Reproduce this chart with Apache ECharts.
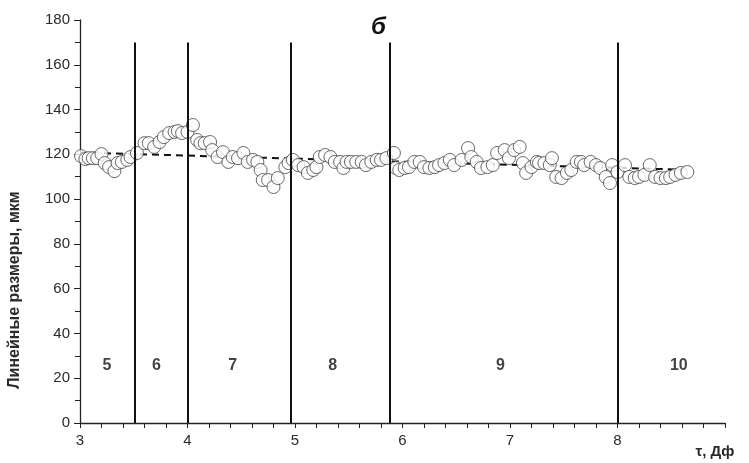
<!DOCTYPE html>
<html>
<head>
<meta charset="utf-8">
<script src="https://cdn.jsdelivr.net/npm/echarts@6/dist/echarts.min.js"></script>
<style>
  html, body { margin: 0; padding: 0; background: #fff; }
  #chart { width: 749px; height: 463px; }
</style>
</head>
<body>
<div id="chart"></div>
<script>
// Measured linear size over time
const tau = [
  3.01, 3.05, 3.08, 3.12, 3.16, 3.20, 3.23, 3.27, 3.32, 3.35, 3.39, 3.44, 3.47, 3.53,
  3.60, 3.64, 3.69, 3.74, 3.78, 3.83, 3.88, 3.91, 3.95, 4.00, 4.05, 4.09, 4.12, 4.16,
  4.21, 4.23, 4.28, 4.33, 4.38, 4.42, 4.47, 4.52, 4.56, 4.61, 4.65, 4.68, 4.70, 4.75,
  4.80, 4.84, 4.91, 4.94, 4.98, 5.03, 5.08, 5.12, 5.17, 5.20, 5.23, 5.28, 5.33, 5.37,
  5.42, 5.45, 5.48, 5.52, 5.57, 5.62, 5.66, 5.71, 5.76, 5.80, 5.85, 5.92, 5.94, 5.97,
  6.02, 6.06, 6.11, 6.16, 6.20, 6.25, 6.30, 6.34, 6.39, 6.44, 6.48, 6.55, 6.61, 6.64,
  6.69, 6.73, 6.79, 6.84, 6.88, 6.95, 6.99, 7.04, 7.09, 7.12, 7.15, 7.20, 7.25, 7.27,
  7.32, 7.37, 7.39, 7.43, 7.48, 7.53, 7.57, 7.62, 7.66, 7.69, 7.75, 7.80, 7.84, 7.89,
  7.93, 7.95, 8.00, 8.07, 8.11, 8.16, 8.20, 8.25, 8.30, 8.35, 8.40, 8.45, 8.49, 8.54,
  8.59, 8.65
];
const size = [
  119.2, 117.9, 118.3, 118.3, 118.3, 120.1, 116.1, 114.3, 112.5, 116.1, 116.6, 117.5, 118.8, 120.6,
  125.0, 125.0, 123.3, 125.5, 127.7, 129.5, 130.0, 130.4, 129.5, 130.0, 133.1, 126.4, 125.0, 125.0,
  125.5, 121.9, 118.8, 121.0, 116.6, 118.8, 118.3, 120.6, 116.6, 117.5, 116.6, 113.0, 108.5, 108.5,
  105.4, 109.4, 114.3, 116.1, 117.5, 115.2, 114.3, 111.7, 113.0, 114.3, 118.8, 119.7, 118.8, 116.6,
  116.6, 113.9, 116.6, 116.6, 116.6, 116.6, 115.2, 116.6, 117.5, 117.5, 118.3, 120.6, 113.9, 113.0,
  113.9, 114.3, 116.6, 116.6, 114.3, 113.9, 114.3, 115.2, 116.1, 117.5, 115.2, 117.5, 122.8, 118.8,
  116.6, 113.9, 114.3, 115.2, 120.6, 121.9, 118.3, 121.9, 123.3, 116.1, 111.7, 114.3, 116.6, 116.1,
  116.1, 115.2, 118.3, 109.9, 109.4, 111.7, 113.0, 116.6, 116.6, 115.2, 116.6, 115.2, 113.9, 109.9,
  107.2, 115.2, 112.1, 115.2, 109.9, 109.4, 109.9, 110.8, 115.2, 109.9, 109.4, 109.4, 109.9, 110.8,
  111.7, 112.1
];

// Linear trend endpoints
const trendTau = [3.0, 8.65];
const trendSize = [120.8, 113.1];

// Stage boundaries and stage labels
const boundaries = [3.51, 4.0, 4.96, 5.88, 8.0];
const boundaryTop = 170;
const zoneNames = ['5', '6', '7', '8', '9', '10'];
const zoneTau = [3.25, 3.71, 4.42, 5.35, 6.91, 8.57];
const zoneLevel = 25.5;

const xTicks = [3, 4, 5, 6, 7, 8];

const chart = echarts.init(document.getElementById('chart'));

const points = tau.map((t, i) => [t, size[i]]);
const trend = trendTau.map((t, i) => [t, trendSize[i]]);
const zones = zoneTau.map((t, i) => [t, zoneLevel, zoneNames[i]]);

const axisFont = { fontFamily: 'Liberation Sans', fontSize: 15, color: '#2a2a2a' };

chart.setOption({
  animation: false,
  backgroundColor: '#fff',
  title: {
    text: 'б',
    left: 366,
    top: 10,
    textStyle: { fontFamily: 'Liberation Sans', fontSize: 24, fontWeight: 'bold', fontStyle: 'italic', color: '#111' }
  },
  grid: { left: 80, top: 20, right: 24, bottom: 40, containLabel: false },
  xAxis: {
    type: 'value',
    min: 3, max: 9, interval: 1,
    axisLine: { lineStyle: { color: '#222', width: 1.3 } },
    axisTick: { show: true, length: 5, lineStyle: { color: '#222' } },
    minorTick: { show: true, splitNumber: 5, length: 5, lineStyle: { color: '#222' } },
    splitLine: { show: false },
    axisLabel: Object.assign({
      margin: 10,
      formatter: v => xTicks.indexOf(v) >= 0 ? String(v) : ''
    }, axisFont)
  },
  yAxis: {
    type: 'value',
    min: 0, max: 180, interval: 20,
    axisLine: { show: true, lineStyle: { color: '#222', width: 1.3 } },
    axisTick: { show: true, length: 6, lineStyle: { color: '#222' } },
    minorTick: { show: true, splitNumber: 2, length: 5, lineStyle: { color: '#222' } },
    splitLine: { show: false },
    axisLabel: Object.assign({ margin: 10 }, axisFont)
  },
  graphic: [
    {
      type: 'text',
      x: 15, y: 290,
      rotation: Math.PI / 2,
      style: {
        text: 'Линейные размеры, мкм',
        font: 'bold 16px "Liberation Sans"',
        fill: '#2a2a2a',
        align: 'center',
        verticalAlign: 'middle'
      }
    },
    {
      type: 'text',
      x: 715, y: 452,
      style: {
        text: 'τ, Дф',
        font: 'bold 15px "Liberation Sans"',
        fill: '#2a2a2a',
        align: 'center',
        verticalAlign: 'middle'
      }
    }
  ],
  series: [
    {
      type: 'line',
      data: trend,
      symbol: 'none',
      z: 3,
      lineStyle: { color: '#111', width: 2, type: [7, 5] },
      markLine: {
        silent: true,
        symbol: 'none',
        label: { show: false },
        lineStyle: { color: '#111', width: 2, type: 'solid' },
        data: boundaries.map(b => [{ coord: [b, 0] }, { coord: [b, boundaryTop] }])
      }
    },
    {
      type: 'scatter',
      data: points,
      symbol: 'circle',
      symbolSize: 13,
      z: 4,
      itemStyle: { color: '#fff', borderColor: '#444', borderWidth: 1 }
    },
    {
      type: 'scatter',
      data: zones,
      symbolSize: 0,
      z: 5,
      label: {
        show: true,
        position: 'inside',
        formatter: p => p.data[2],
        fontFamily: 'Liberation Sans',
        fontWeight: 'bold',
        fontSize: 16,
        color: '#111'
      }
    }
  ]
});
</script>
</body>
</html>
